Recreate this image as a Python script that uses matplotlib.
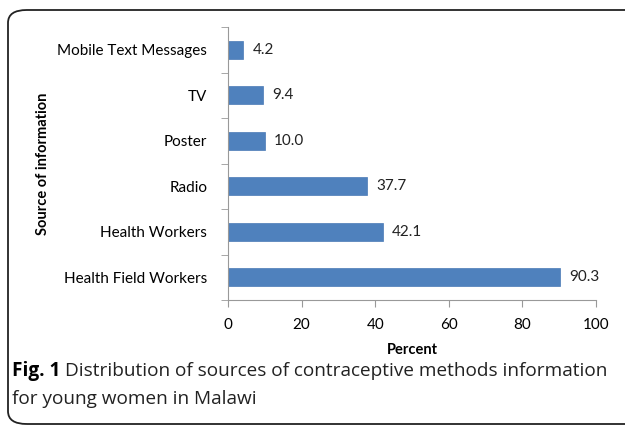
import matplotlib
matplotlib.use("Agg")
import matplotlib.pyplot as plt
from matplotlib.patches import FancyBboxPatch

sources = ["Mobile Text Messages", "TV", "Poster", "Radio",
           "Health Workers", "Health Field Workers"]
percent = [4.2, 9.4, 10.0, 37.7, 42.1, 90.3]
xticks = [0, 20, 40, 60, 80, 100]

plt.rcParams['font.family'] = ['Lato', 'DejaVu Sans']

fig = plt.figure(figsize=(6.25, 4.28), dpi=100)

# rounded frame round the whole figure
frame = FancyBboxPatch((8 / 625, 4 / 428), 680 / 625, 414 / 428,
                       boxstyle="round,pad=0,rounding_size=0.03",
                       transform=fig.transFigure, fill=False,
                       edgecolor="#222222", linewidth=1.3)
fig.patches.append(frame)

ax = fig.add_axes([228 / 625, 1 - 300 / 428, 368 / 625, 273 / 428])
y = list(range(len(sources)))[::-1]
ax.barh(y, percent, height=0.4, color="#4f81bd", edgecolor="#4a7ab5", linewidth=0.5)
for yi, v in zip(y, percent):
    ax.text(v + 2.5, yi, f"{v:.1f}", va="center", ha="left", fontsize=11, color="#222222")

ax.set_xlim(0, 100)
ax.set_ylim(-0.5, len(sources) - 0.5)
ax.set_xticks(xticks)
ax.set_xticklabels([str(t) for t in xticks], fontsize=11)
ax.set_yticks(y)
ax.set_yticklabels(sources, fontsize=11)
ax.set_yticks([i - 0.5 for i in range(len(sources) + 1)], minor=True)
ax.tick_params(axis="y", which="major", length=0, pad=15)
ax.tick_params(axis="y", which="minor", length=5, color="#999999", direction="out")
ax.tick_params(axis="x", length=5, color="#999999", direction="out", pad=8)
for s in ["top", "right"]:
    ax.spines[s].set_visible(False)
for s in ["left", "bottom"]:
    ax.spines[s].set_color("#999999")

ax.set_xlabel("Percent", fontsize=10.5, fontweight="bold", labelpad=8)
ax.set_ylabel("Source of information", fontsize=10.5, fontweight="bold")
ax.yaxis.set_label_coords(-0.485, 0.5)

# caption
fig.canvas.draw()
cap_y = 1 - 371 / 428
t1 = fig.text(12 / 625, cap_y, "Fig. 1", fontsize=13.7, fontweight="bold",
              family=["Open Sans", "DejaVu Sans"], va="center")
fig.canvas.draw()
bb = t1.get_window_extent()
fig.text(bb.x1 / 625 + 5 / 625, cap_y,
         "Distribution of sources of contraceptive methods information",
         fontsize=13.7, family=["Open Sans", "DejaVu Sans"], va="center", color="#222222")
fig.text(12 / 625, 1 - 399 / 428, "for young women in Malawi",
         fontsize=13.7, family=["Open Sans", "DejaVu Sans"], va="center", color="#222222")

fig.savefig("out.png", dpi=100)
